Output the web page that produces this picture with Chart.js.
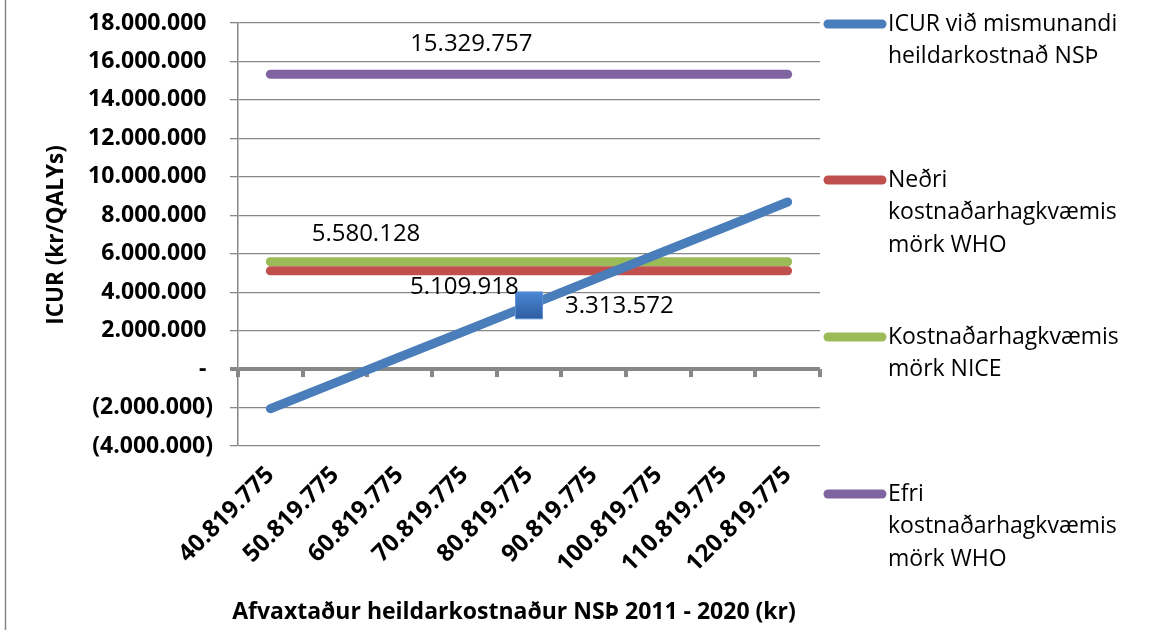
<!DOCTYPE html>
<html><head><meta charset="utf-8">
<script src="https://cdn.jsdelivr.net/npm/chart.js@4.4.0/dist/chart.umd.min.js"></script>
<style>html,body{margin:0;padding:0;background:#fff;overflow:hidden}#wrap{position:relative;width:1155px;height:630px}</style>
</head><body><div id="wrap"><canvas id="c" width="1155" height="630"></canvas></div>
<script>
// ---- data ----
const categories = ['40.819.775','50.819.775','60.819.775','70.819.775','80.819.775','90.819.775','100.819.775','110.819.775','120.819.775'];
const icurValues = [-2060000, -720000, 630000, 1970000, 3313572, 4660000, 6000000, 7340000, 8690000];
const basePointValues = [null, null, null, null, 3313572, null, null, null, null];
const nedriWhoValues = [5109918, 5109918, 5109918, 5109918, 5109918, 5109918, 5109918, 5109918, 5109918];
const niceValues = [5580128, 5580128, 5580128, 5580128, 5580128, 5580128, 5580128, 5580128, 5580128];
const efriWhoValues = [15329757, 15329757, 15329757, 15329757, 15329757, 15329757, 15329757, 15329757, 15329757];
const yTicks = [-4000000, -2000000, 0, 2000000, 4000000, 6000000, 8000000, 10000000, 12000000, 14000000, 16000000, 18000000];
const seriesNames = [
  ['ICUR við mismunandi', 'heildarkostnað NSÞ'],
  ['Neðri', 'kostnaðarhagkvæmis', 'mörk WHO'],
  ['Kostnaðarhagkvæmis', 'mörk NICE'],
  ['Efri', 'kostnaðarhagkvæmis', 'mörk WHO']
];
const xTitle = 'Afvaxtaður heildarkostnaður NSÞ 2011 - 2020 (kr)';
const yTitle = 'ICUR (kr/QALYs)';

const FONT = "'Open Sans', 'DejaVu Sans', sans-serif";
const GRID = '#878787';

function fmt(v) {
  if (v === 0) return '-';
  const s = Math.abs(Math.round(v)).toString().replace(/\B(?=(\d{3})+(?!\d))/g, '.');
  return v < 0 ? '(' + s + ')' : s;
}
// axis variant: positive / zero values keep room for the closing parenthesis
function fmtAxis(v) {
  return v < 0 ? fmt(v) : fmt(v) + '\u2008';
}

const decor = {
  id: 'decor',
  beforeDatasetsDraw(chart) {
    const ctx = chart.ctx, xs = chart.scales.x, ys = chart.scales.y;
    const y0 = ys.getPixelForValue(0);
    const half = (xs.getPixelForValue(1) - xs.getPixelForValue(0)) / 2;
    ctx.save();
    ctx.strokeStyle = GRID; ctx.lineWidth = 4;
    for (let i = 0; i <= categories.length; i++) {
      const x = Math.round(xs.getPixelForValue(i) - half);
      ctx.beginPath(); ctx.moveTo(x, y0); ctx.lineTo(x, y0 + 8); ctx.stroke();
    }
    ctx.restore();
  },
  afterDraw(chart) {
    const ctx = chart.ctx, xs = chart.scales.x, ys = chart.scales.y, o = chart.options.plugins.decor;
    ctx.save();
    // frame
    ctx.strokeStyle = GRID; ctx.lineWidth = 1.5;
    ctx.beginPath(); ctx.moveTo(5.5, 0); ctx.lineTo(5.5, 630); ctx.stroke();
    // data labels
    ctx.fillStyle = '#000';
    ctx.font = '24px ' + FONT;
    ctx.textBaseline = 'middle';
    o.labels.forEach(l => {
      const ds = chart.data.datasets[l.ds];
      const v = ds.data[l.i];
      const x = xs.getPixelForValue(l.i) + l.dx;
      const y = ys.getPixelForValue(v) + l.dy;
      ctx.textAlign = l.align;
      ctx.fillText(fmt(v), x, y);
    });
    // axis titles
    ctx.font = 'bold 23px ' + FONT;
    ctx.textAlign = 'center';
    ctx.fillText(xTitle, o.xTitlePos[0], o.xTitlePos[1]);
    ctx.save();
    ctx.font = 'bold 22.5px ' + FONT;
    ctx.translate(o.yTitlePos[0], o.yTitlePos[1]);
    ctx.rotate(-Math.PI / 2);
    ctx.fillText(yTitle, 0, 0);
    ctx.restore();
    // legend
    ctx.font = '23px ' + FONT;
    ctx.textAlign = 'left';
    o.legendY.forEach((ly, k) => {
      const ds = chart.data.datasets[k + 1];
      ctx.strokeStyle = ds.borderColor; ctx.lineWidth = 9; ctx.lineCap = 'round';
      ctx.beginPath(); ctx.moveTo(o.legendX + 8, ly); ctx.lineTo(o.legendX + 62, ly); ctx.stroke();
      seriesNames[k].forEach((t, j) => ctx.fillText(t, o.legendX + 68, ly + j * o.legendLine));
    });
    ctx.restore();
  }
};

const lineDs = (label, data, color) => ({
  label, data, borderColor: color, backgroundColor: color, borderWidth: 9,
  borderCapStyle: 'round', borderJoinStyle: 'round', pointRadius: 0, pointHoverRadius: 0, tension: 0, fill: false
});

function squareFill(c) {
  const chart = c.chart, ys = chart.scales && chart.scales.y;
  if (!ys || c.raw == null || !chart.chartArea) return '#3b70bd';
  const y = ys.getPixelForValue(c.raw);
  const g = chart.ctx.createLinearGradient(0, y - 14, 0, y + 14);
  g.addColorStop(0, '#4c88d6');
  g.addColorStop(1, '#2c5d9f');
  return g;
}

new Chart(document.getElementById('c'), {
  type: 'line',
  data: {
    labels: categories,
    datasets: [
      { label: 'base', data: basePointValues, showLine: false, pointStyle: 'rect', pointRadius: 19, pointHoverRadius: 19,
        pointBackgroundColor: squareFill, pointBorderColor: '#5e90d4', pointBorderWidth: 1 },
      lineDs(seriesNames[0].join(' '), icurValues, '#4a7ebb'),
      lineDs(seriesNames[1].join(' '), nedriWhoValues, '#c0504d'),
      lineDs(seriesNames[2].join(' '), niceValues, '#9bbb59'),
      lineDs(seriesNames[3].join(' '), efriWhoValues, '#8064a2')
    ]
  },
  options: {
    responsive: false, animation: false, events: [],
    layout: { padding: { left: 0, right: 335, top: 23, bottom: 0 } },
    plugins: {
      legend: { display: false }, tooltip: { enabled: false }, title: { display: false },
      decor: {
        labels: [
          { ds: 4, i: 3, dx: 7, dy: -30, align: 'center' },
          { ds: 3, i: 1, dx: 31, dy: -28, align: 'center' },
          { ds: 2, i: 3, dx: 0, dy: 16, align: 'center' },
          { ds: 0, i: 4, dx: 36, dy: 1, align: 'left' }
        ],
        xTitlePos: [514, 612], yTitlePos: [57, 235],
        legendX: 820, legendY: [24, 180, 337, 494], legendLine: 32.7
      }
    },
    scales: {
      x: {
        offset: true,
        grid: { display: false, drawTicks: false },
        border: { display: false },
        ticks: { autoSkip: false, minRotation: 45, maxRotation: 45, color: '#000', padding: 15,
          font: { family: FONT, weight: 'bold', size: 24 } },
        afterFit: s => { s.height = 184; s.paddingLeft = 0; s.paddingRight = 0; }
      },
      y: {
        min: -4000000, max: 18000000,
        afterBuildTicks: s => { s.ticks = yTicks.map(v => ({ value: v })); },
        ticks: { callback: v => fmtAxis(v), color: '#000', padding: 17,
          font: { family: FONT, weight: 'bold', size: 23 } },
        grid: { color: GRID, lineWidth: c => (c.tick && c.tick.value === 0 ? 4 : 1.3), tickLength: 8, drawTicks: true },
        border: { display: true, color: GRID, width: 1.5 },
        afterFit: s => { s.width = 238; s.paddingTop = 0; s.paddingBottom = 0; }
      }
    }
  },
  plugins: [decor]
});
</script></body></html>
